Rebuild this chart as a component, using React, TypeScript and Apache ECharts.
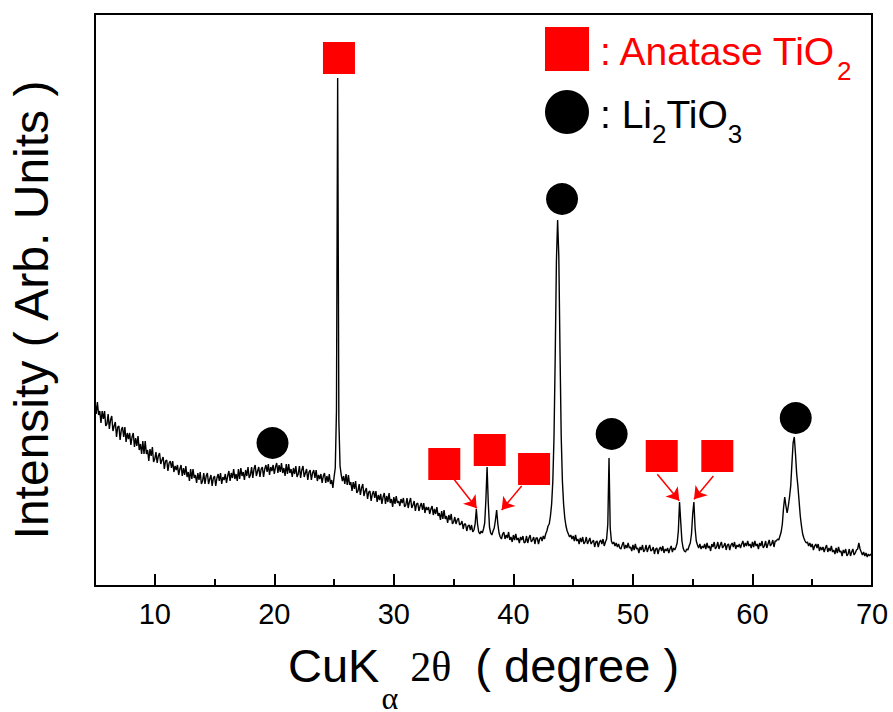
import React, { useEffect, useRef } from "react";
import * as echarts from "echarts";

// XRD scan: 2θ from 5.0° to 70.0°, step 0.1° (arbitrary units)
const scanStart = 5.0;
const scanStep = 0.1;

const counts05to20 = [
  185, 172, 184, 171, 175, 163, 175, 167, 175, 160, // 5
  162, 172, 157, 166, 170, 155, 160, 164, 149, 159, // 6
  160, 146, 156, 159, 149, 159, 144, 153, 147, 153, // 7
  141, 149, 153, 139, 148, 140, 150, 136, 142, 132, // 8
  145, 132, 145, 132, 136, 125, 137, 130, 139, 124, // 9
  127, 134, 123, 130, 133, 122, 126, 129, 117, 125, // 10
  126, 115, 123, 125, 118, 125, 114, 120, 116, 121, // 11
  111, 117, 121, 110, 118, 111, 120, 109, 114, 105, // 12
  117, 107, 117, 108, 111, 103, 113, 106, 114, 102, // 13
  105, 113, 102, 110, 113, 102, 107, 111, 100, 108, // 14
  110, 100, 108, 112, 105, 113, 102, 109, 106, 112, // 15
  103, 110, 115, 105, 113, 108, 117, 107, 112, 105, // 16
  117, 107, 118, 110, 114, 106, 116, 110, 119, 108, // 17
  111, 119, 108, 117, 121, 110, 115, 119, 109, 117, // 18
  119, 109, 117, 121, 114, 122, 111, 119, 115, 121, // 19
];
const counts20to35 = [
  112, 119, 123, 113, 121, 114, 123, 113, 118, 110, // 20
  122, 112, 122, 113, 117, 109, 118, 112, 120, 109, // 21
  112, 120, 108, 116, 120, 109, 113, 117, 106, 114, // 22
  116, 106, 113, 116, 108, 116, 105, 111, 107, 112, // 23
  103, 110, 113, 103, 110, 104, 112, 102, 106, 98, // 24
  109, 118, 175, 508, 165, 120, 111, 105, 110, 102, // 25
  112, 101, 111, 101, 104, 95, 104, 97, 105, 93, // 26
  95, 102, 91, 98, 102, 90, 95, 98, 87, 94, // 27
  95, 85, 92, 95, 88, 95, 84, 91, 86, 92, // 28
  82, 89, 93, 82, 90, 84, 93, 83, 87, 79, // 29
  89, 82, 90, 83, 85, 80, 87, 83, 88, 79, // 30
  81, 88, 78, 84, 88, 78, 81, 85, 75, 82, // 31
  83, 75, 80, 83, 76, 83, 73, 79, 76, 79, // 32
  72, 77, 80, 71, 77, 72, 79, 70, 73, 66, // 33
  75, 67, 76, 67, 70, 63, 71, 66, 72, 62, // 34
];
const counts35to50 = [
  64, 69, 62, 66, 68, 61, 62, 65, 57, 62, // 35
  62, 55, 60, 61, 56, 61, 54, 56, 62, 77, // 36
  62, 54, 52, 55, 53, 57, 63, 86, 119, 83, // 37
  59, 53, 51, 55, 58, 66, 76, 62, 53, 49, // 38
  47, 52, 54, 47, 51, 48, 54, 46, 49, 44, // 39
  51, 46, 52, 46, 48, 43, 49, 46, 50, 43, // 40
  44, 50, 43, 48, 51, 44, 46, 49, 42, 48, // 41
  48, 42, 47, 49, 45, 50, 47, 52, 55, 60, // 42
  62, 70, 82, 105, 150, 230, 325, 366, 330, 235, // 43
  150, 105, 82, 68, 60, 55, 52, 49, 51, 47, // 44
  50, 45, 51, 45, 47, 42, 48, 44, 49, 42, // 45
  44, 49, 42, 45, 48, 42, 44, 46, 39, 44, // 46
  45, 39, 44, 46, 42, 47, 40, 44, 47, 62, // 47
  128, 58, 45, 42, 44, 40, 43, 39, 42, 38, // 48
  37, 41, 44, 37, 41, 38, 43, 38, 39, 35, // 49
];
const counts50to70 = [
  41, 36, 42, 37, 38, 33, 39, 36, 41, 34, // 50
  36, 41, 34, 38, 41, 35, 36, 39, 32, 37, // 51
  38, 32, 37, 39, 35, 40, 33, 37, 35, 38, // 52
  33, 37, 40, 34, 38, 36, 39, 43, 55, 84, // 53
  64, 45, 38, 35, 34, 37, 36, 40, 43, 52, // 54
  72, 84, 58, 45, 41, 38, 42, 37, 40, 38, // 55
  42, 37, 43, 38, 40, 35, 42, 39, 44, 37, // 56
  39, 44, 37, 41, 44, 38, 40, 43, 36, 41, // 57
  42, 36, 41, 43, 39, 44, 37, 41, 39, 42, // 58
  38, 42, 45, 39, 43, 40, 45, 40, 42, 38, // 59
  44, 39, 45, 40, 42, 37, 43, 40, 45, 38, // 60
  40, 45, 38, 42, 46, 40, 42, 46, 39, 45, // 61
  45, 47, 46, 50, 54, 62, 78, 89, 80, 73, // 62
  80, 89, 100, 122, 143, 149, 132, 112, 100, 85, // 63
  70, 60, 52, 48, 45, 43, 44, 40, 43, 39, // 64
  42, 36, 40, 42, 38, 42, 35, 39, 36, 39, // 65
  34, 38, 41, 34, 38, 35, 40, 34, 36, 32, // 66
  38, 33, 39, 34, 35, 30, 36, 33, 37, 30, // 67
  32, 37, 30, 34, 37, 31, 33, 36, 37, 43, // 68
  37, 34, 31, 34, 30, 33, 29, 32, 30, 32, // 69
  31, // 70.0
];

const intensity = [...counts05to20, ...counts20to35, ...counts35to50, ...counts50to70];

// Axis ticks
const majorTicks = [10, 20, 30, 40, 50, 60, 70];
const minorTicks = [15, 25, 35, 45, 55, 65];
const xMin = 5;
const xMax = 70;
const yMax = 572;

// Phase markers [2θ, intensity] where each symbol sits
const anataseMarks = [
  [25.41, 528],
  [34.22, 122],
  [38.02, 136],
  [41.73, 117],
  [52.41, 130],
  [57.06, 130],
];
const li2tio3Marks = [
  [19.85, 143],
  [44.07, 387],
  [48.22, 152],
  [63.62, 168],
];
// Arrows from an anatase symbol to its small peak: [from, to]
const anataseArrows = [
  [[35.03, 106.7], [36.93, 77.7]],
  [[40.69, 100], [39.02, 76]],
  [[52.04, 111.7], [53.88, 85.3]],
  [[56.73, 110], [55.11, 86.7]],
];

const SANS = "'Liberation Sans', Arial, sans-serif";
const SERIF = "'Liberation Serif', 'Times New Roman', serif";

export default function App() {
  const ref = useRef<HTMLDivElement>(null);

  useEffect(() => {
    if (!ref.current) return;
    const chart = echarts.init(ref.current, undefined, { renderer: "svg" });
    const pattern = intensity.map((v, i) => [
      +(scanStart + i * scanStep).toFixed(1),
      v,
    ]);

    const legendMain = { fontSize: 39, fontFamily: SANS, lineHeight: 46 };
    const legendSub = { fontSize: 26, fontFamily: SANS, lineHeight: 30, padding: [44, 0, 0, 0] };

    const option: any = {
      animation: false,
      backgroundColor: "#ffffff",
      grid: {
        left: 95,
        right: 21,
        top: 14,
        bottom: 126,
        containLabel: false,
        outerBoundsMode: "none",
        show: true,
        borderColor: "#000",
        borderWidth: 2,
        backgroundColor: "transparent",
      },
      legend: {
        data: ["Anatase TiO2", "Li2TiO3"],
        orient: "vertical",
        left: 545,
        top: 14,
        padding: 0,
        itemGap: -7,
        itemWidth: 44,
        itemHeight: 44,
        selectedMode: false,
        formatter: (name: string) =>
          name === "Anatase TiO2"
            ? "{r|: Anatase TiO}{rs|2}"
            : "{k0|: Li}{ks|2}{k|TiO}{ks|3}",
        textStyle: {
          rich: {
            r: { ...legendMain, color: "#ff0000", padding: [16, 0, 12, 6] },
            rs: { ...legendSub, color: "#ff0000" },
            k0: { ...legendMain, color: "#000", padding: [16, 0, 12, 6] },
            k: { ...legendMain, color: "#000", padding: [16, 0, 12, 0] },
            ks: { ...legendSub, color: "#000" },
          },
        },
      },
      xAxis: [
        {
          type: "value",
          min: xMin,
          max: xMax,
          position: "bottom",
          axisLine: { show: false },
          splitLine: { show: false },
          axisTick: {
            show: true,
            inside: true,
            length: 12,
            customValues: majorTicks,
            lineStyle: { color: "#000", width: 2 },
          },
          axisLabel: {
            customValues: majorTicks,
            fontSize: 29,
            color: "#000",
            fontFamily: SANS,
            margin: 13,
          },
          name: "{a|CuK}{s|α}{t|2θ}{b|( degree )}",
          nameLocation: "middle",
          nameGap: 67,
          nameTextStyle: {
            rich: {
              a: { fontSize: 47, fontFamily: SANS, color: "#000", lineHeight: 56, padding: [0, 0, 32, 0] },
              b: { fontSize: 47, fontFamily: SANS, color: "#000", lineHeight: 56, padding: [0, 0, 32, 24] },
              t: { fontSize: 42, fontFamily: SERIF, color: "#000", lineHeight: 56, padding: [2, 0, 30, 12] },
              s: { fontSize: 32, fontFamily: SERIF, color: "#000", lineHeight: 36, padding: [43, 0, 9, 2] },
            },
          },
        },
        {
          type: "value",
          min: xMin,
          max: xMax,
          position: "bottom",
          axisLine: { show: false },
          splitLine: { show: false },
          axisLabel: { show: false },
          axisTick: {
            show: true,
            inside: true,
            length: 7,
            customValues: minorTicks,
            lineStyle: { color: "#000", width: 2 },
          },
        },
      ],
      yAxis: {
        type: "value",
        min: 0,
        max: yMax,
        axisLine: { show: false },
        axisTick: { show: false },
        axisLabel: { show: false },
        splitLine: { show: false },
        name: "Intensity ( Arb. Units )",
        nameLocation: "middle",
        nameGap: 40,
        nameTextStyle: {
          fontSize: 48,
          color: "#000",
          fontFamily: SANS,
          padding: [0, 20, 0, 0],
        },
      },
      series: [
        {
          name: "XRD",
          type: "line",
          xAxisIndex: 0,
          data: pattern,
          showSymbol: false,
          symbol: "none",
          lineStyle: { color: "#000", width: 1.4 },
          silent: true,
          z: 2,
        },
        {
          name: "Anatase TiO2",
          type: "scatter",
          xAxisIndex: 0,
          data: anataseMarks,
          symbol: "rect",
          symbolSize: 32,
          itemStyle: { color: "#ff0000", opacity: 1 },
          silent: true,
          z: 3,
          markLine: {
            silent: true,
            symbol: ["none", "arrow"],
            symbolSize: 12,
            label: { show: false },
            emphasis: { disabled: true },
            lineStyle: { color: "#ff0000", width: 1.5, type: "solid", opacity: 1 },
            data: anataseArrows.map(([a, b]) => [{ coord: a }, { coord: b }]),
          },
        },
        {
          name: "Li2TiO3",
          type: "scatter",
          xAxisIndex: 0,
          data: li2tio3Marks,
          symbol: "circle",
          symbolSize: 32,
          itemStyle: { color: "#000", opacity: 1 },
          silent: true,
          z: 3,
        },
      ],
    };

    chart.setOption(option);
    return () => chart.dispose();
  }, []);

  return (
    <div
      ref={ref}
      style={{ position: "absolute", left: 0, top: 0, width: 893, height: 712 }}
    />
  );
}
